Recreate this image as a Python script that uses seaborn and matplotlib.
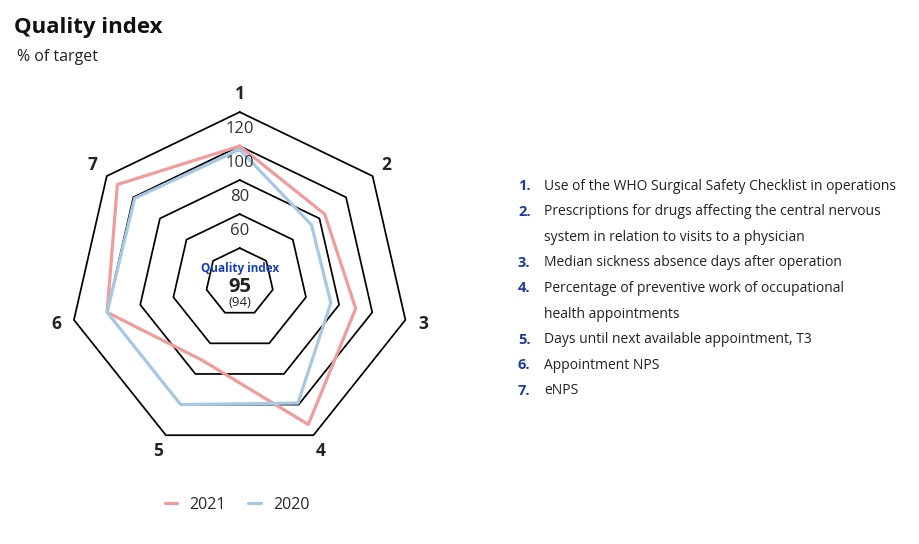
import numpy as np
import pandas as pd
import seaborn as sns
import matplotlib.pyplot as plt

# data (% of target)
axis_ids = ['1', '2', '3', '4', '5', '6', '7']
vals_2021 = [100, 84, 90, 113, 71, 100, 112]
vals_2020 = [98, 74, 75, 99, 100, 100, 99]
ring_levels = [40, 60, 80, 100, 120]
ring_labels = ['60', '80', '100', '120']
indicators = [
    'Use of the WHO Surgical Safety Checklist in operations',
    'Prescriptions for drugs affecting the central nervous\nsystem in relation to visits to a physician',
    'Median sickness absence days after operation',
    'Percentage of preventive work of occupational\nhealth appointments',
    'Days until next available appointment, T3',
    'Appointment NPS',
    'eNPS',
]
index_2021 = 95
index_2020 = 94

sns.set_theme(style='white')
plt.rcParams['font.family'] = ['Open Sans', 'DejaVu Sans']

n = len(axis_ids)
theta = np.linspace(0, 2 * np.pi, n, endpoint=False)
theta_c = np.append(theta, 0)

rows = []
for year, vals in [('2021', vals_2021), ('2020', vals_2020)]:
    for t, v in zip(theta_c, vals + vals[:1]):
        rows.append({'theta': t, 'value': v, 'year': year})
df = pd.DataFrame(rows)

fig = plt.figure(figsize=(9.19, 5.44), dpi=100)
ax = fig.add_axes([0.0758, 0.169, 0.370, 0.625], projection='polar')
ax.set_theta_offset(np.pi / 2)
ax.set_theta_direction(-1)
ax.set_ylim(20, 120)
ax.grid(False)
ax.spines['polar'].set_visible(False)
ax.set_xticks([])
ax.set_yticks([])
ax.patch.set_visible(False)

# heptagon grid
for lv in ring_levels:
    ax.plot(theta_c, [lv] * (n + 1), color='black', lw=1.25, clip_on=False, zorder=1)

sns.lineplot(data=df, x='theta', y='value', hue='year', sort=False, estimator=None,
             palette={'2021': '#f09c9c', '2020': '#a6c8e4'}, lw=2.3, ax=ax, zorder=3)
for line in ax.get_lines():
    line.set_clip_on(False)
handles, labels = ax.get_legend_handles_labels()
ax.get_legend().remove()

# ring value labels along axis 1
for i, lab in enumerate(ring_labels):
    ax.text(0, ring_levels[i + 1] - 10, lab, ha='center', va='center', fontsize=12, color='#333333', zorder=4)

# axis numbers
for t, lab in zip(theta, axis_ids):
    ax.text(t, 130.5, lab, ha='center', va='center', fontsize=12.5, fontweight='bold', color='#222222')

ax.set_xlabel('')
ax.set_ylabel('')

# centre text
ax.annotate('Quality index', (0.5, 0.5), xycoords='axes fraction', xytext=(0, 9.9),
            textcoords='offset points', ha='center', va='center', fontsize=8.5,
            fontweight='bold', color='#1440b4')
ax.annotate(str(index_2021), (0.5, 0.5), xycoords='axes fraction', xytext=(0, -3.4),
            textcoords='offset points', ha='center', va='center', fontsize=14.5,
            fontweight='bold', color='#222222')
ax.annotate('(%d)' % index_2020, (0.5, 0.5), xycoords='axes fraction', xytext=(0, -14.6),
            textcoords='offset points', ha='center', va='center', fontsize=9.5, color='#222222')

# titles
fig.text(14 / 919, 1 - 28 / 544, 'Quality index', ha='left', va='center', fontsize=16,
         fontweight='bold', color='#111111')
fig.text(17 / 919, 1 - 57 / 544, '% of target', ha='left', va='center', fontsize=11.5, color='#222222')

# indicator list on the right
row_y = 186
for i, txt in enumerate(indicators):
    fig.text(518 / 919, 1 - row_y / 544, f'{i + 1}.', ha='left', va='center', fontsize=10.5,
             fontweight='bold', color='#1a3a9e')
    for part in txt.split('\n'):
        fig.text(544 / 919, 1 - row_y / 544, part, ha='left', va='center', fontsize=10, color='#222222')
        row_y += 25.6

fig.legend(handles, labels, loc='center', bbox_to_anchor=(237 / 919, 1 - 505 / 544), ncol=2,
           frameon=False, handlelength=0.8, handletextpad=0.75, columnspacing=1.4, fontsize=11.5)

fig.savefig('out.png', dpi=100)
